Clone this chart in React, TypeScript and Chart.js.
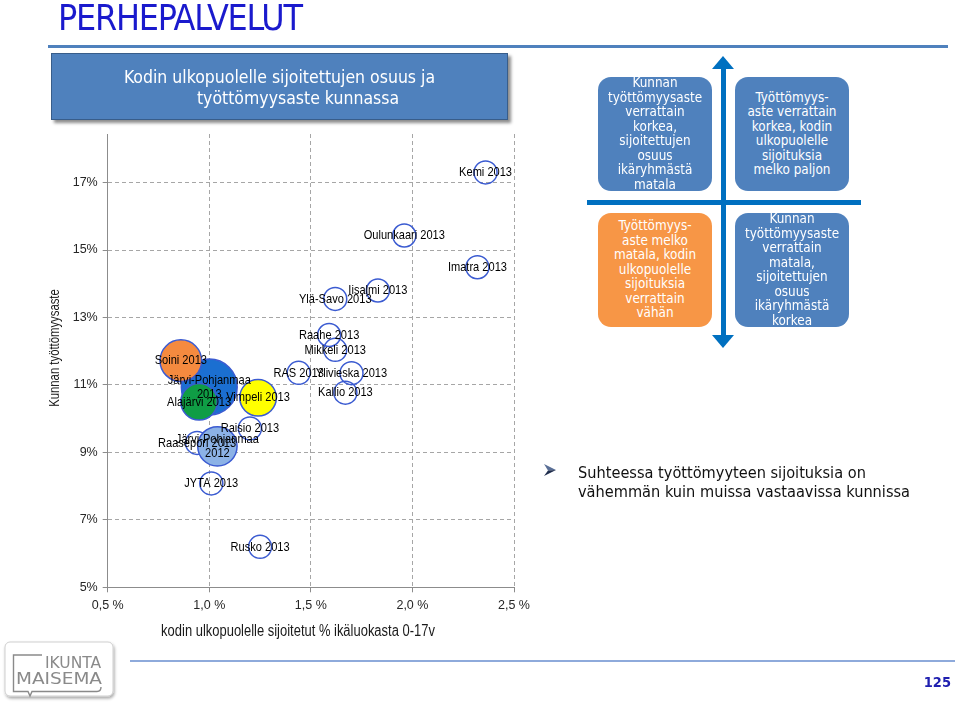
import React, { useEffect, useRef } from 'react';
import { Chart, registerables } from 'chart.js';

Chart.register(...registerables);

// ---------- data ----------
const municipalities = [
  'Kemi 2013',
  'Oulunkaari 2013',
  'Imatra 2013',
  'Iisalmi 2013',
  'Ylä-Savo 2013',
  'Raahe 2013',
  'Mikkeli 2013',
  'RAS 2013',
  'Ylivieska 2013',
  'Kallio 2013',
  'Raisio 2013',
  'JYTA 2013',
  'Rusko 2013',
  'Raasepori 2013',
  'Järvi-Pohjanmaa\n2013',
  'Soini 2013',
  'Alajärvi 2013',
  'Vimpeli 2013',
  'Järvi-Pohjanmaa\n2012',
];
// kodin ulkopuolelle sijoitetut, % ikäluokasta 0-17v
const placementShare = [2.36, 1.96, 2.32, 1.83, 1.62, 1.59, 1.62, 1.44, 1.70, 1.67, 1.20, 1.01, 1.25, 0.94, 1.00, 0.86, 0.95, 1.24, 1.04];
// kunnan työttömyysaste, %
const unemploymentRate = [17.3, 15.43, 14.49, 13.8, 13.55, 12.48, 12.04, 11.36, 11.35, 10.77, 9.71, 8.08, 6.2, 9.28, 10.94, 11.72, 10.5, 10.62, 9.18];
// relative bubble size
const bubbleSize = [1, 1, 1, 1, 1, 1, 1, 1, 1, 1, 1, 1, 1, 1, 5.9, 3.27, 2.53, 2.53, 2.93];

const xTickValues = [0.5, 1.0, 1.5, 2.0, 2.5];
const yTickValues = [5, 7, 9, 11, 13, 15, 17];

// ---------- styles ----------
const OUTLINE = '#3b5bd1';
const fillByName: Record<string, string> = {
  'Järvi-Pohjanmaa\n2013': '#1b6fd1',
  'Soini 2013': '#f58a3f',
  'Alajärvi 2013': '#0f9d45',
  'Vimpeli 2013': '#ffff00',
  'Järvi-Pohjanmaa\n2012': '#8cb2e6',
};
const BASE_R = 11.5;
const SANS = '"Liberation Sans", Arial, sans-serif';
const COND = '"DejaVu Sans Condensed", "DejaVu Sans", Verdana, sans-serif';
const NARROW_X = 0.82;

const labelPlugin = {
  id: 'bubbleLabels',
  afterDatasetsDraw(chart: any) {
    const ctx = chart.ctx;
    const meta = chart.getDatasetMeta(0);
    meta.data.forEach((el: any, i: number) => {
      const lines = municipalities[i].split('\n');
      const lh = 14;
      ctx.save();
      ctx.font = '13.5px ' + SANS;
      ctx.fillStyle = '#000';
      ctx.textAlign = 'center';
      ctx.textBaseline = 'middle';
      ctx.translate(el.x, el.y);
      ctx.scale(NARROW_X, 1);
      lines.forEach((ln: string, k: number) => {
        ctx.fillText(ln, 0, (k - (lines.length - 1) / 2) * lh);
      });
      ctx.restore();
    });
  },
};

const gridOpts: any = {
  color: '#a6a6a6',
  tickLength: 5,
  tickColor: '#8c8c8c',
  tickBorderDash: [],
};
const borderOpts: any = { display: true, color: '#8c8c8c', width: 1, dash: [4, 3] };

function BubbleChart() {
  const ref = useRef<HTMLCanvasElement | null>(null);
  useEffect(() => {
    if (!ref.current) return;
    const data = municipalities.map((_, i) => ({
      x: placementShare[i],
      y: unemploymentRate[i],
      r: BASE_R * Math.sqrt(bubbleSize[i]),
    }));
    const chart = new Chart(ref.current, {
      type: 'bubble',
      data: {
        datasets: [
          {
            data,
            backgroundColor: municipalities.map((n) => fillByName[n] || 'rgba(255,255,255,0)'),
            borderColor: municipalities.map(() => OUTLINE),
            borderWidth: 1.5,
          },
        ],
      },
      options: {
        animation: false,
        responsive: false,
        devicePixelRatio: 1,
        layout: { padding: { left: 0, top: 134, right: 445, bottom: 0 } },
        plugins: { legend: { display: false }, tooltip: { enabled: false } },
        scales: {
          x: {
            type: 'linear',
            min: 0.5,
            max: 2.5,
            afterBuildTicks: (s: any) => {
              s.ticks = xTickValues.map((v) => ({ value: v }));
            },
            afterFit: (s: any) => {
              s.height = 703 - 587.3;
            },
            grid: gridOpts,
            border: borderOpts,
            ticks: {
              autoSkip: false,
              maxRotation: 0,
              padding: 6,
              color: '#262626',
              font: { family: SANS, size: 12.5 },
              callback: (v: any) => Number(v).toFixed(1).replace('.', ',') + ' %',
            },
          },
          y: {
            type: 'linear',
            min: 5,
            max: 18.44,
            afterBuildTicks: (s: any) => {
              s.ticks = yTickValues.map((v) => ({ value: v }));
            },
            afterFit: (s: any) => {
              s.width = 107.7;
            },
            grid: gridOpts,
            border: borderOpts,
            ticks: {
              autoSkip: false,
              padding: 5,
              color: '#262626',
              font: { family: SANS, size: 12.5 },
              callback: (v: any) => `${v}%`,
            },
          },
        },
      },
      plugins: [labelPlugin],
    });
    return () => chart.destroy();
  }, []);
  return (
    <canvas
      ref={ref}
      width={959}
      height={703}
      style={{ position: 'absolute', left: 0, top: 0, width: 959, height: 703 }}
    />
  );
}

const abs = (s: React.CSSProperties): React.CSSProperties => ({ position: 'absolute', ...s });

function QuadBox(props: { left: number; top: number; bg: string; lines: string[] }) {
  return (
    <div
      style={abs({
        left: props.left,
        top: props.top,
        width: 114,
        height: 114,
        background: props.bg,
        borderRadius: 13,
        display: 'flex',
        flexDirection: 'column',
        justifyContent: 'center',
        alignItems: 'center',
        color: '#fff',
        fontFamily: COND,
        fontSize: 13.4,
        lineHeight: '14.5px',
        textAlign: 'center',
        whiteSpace: 'nowrap',
      })}
    >
      {props.lines.map((l, i) => (
        <div key={i}>{l}</div>
      ))}
    </div>
  );
}

export default function App() {
  const arrowBlue = '#0070c0';
  return (
    <div style={abs({ left: 0, top: 0, width: 959, height: 703, overflow: 'hidden', background: '#fff' })}>
      <BubbleChart />

      {/* page title */}
      <div
        style={abs({
          left: 58,
          top: 0,
          fontFamily: COND,
          fontSize: 35.5,
          lineHeight: '35px',
          letterSpacing: -1.2,
          color: '#1a1acd',
          whiteSpace: 'nowrap',
        })}
      >
        PERHEPALVELUT
      </div>
      <div style={abs({ left: 48, top: 45, width: 900, height: 3, background: '#4f81bd' })} />

      {/* chart title box */}
      <div
        style={abs({
          left: 51,
          top: 53,
          width: 455,
          height: 65,
          background: '#4f81bd',
          border: '1px solid #385d8a',
          boxShadow: '3px 3px 3px rgba(0,0,0,0.45)',
        })}
      />
      <div
        style={abs({
          left: 51,
          top: 66.5,
          width: 457,
          color: '#fff',
          fontFamily: COND,
          fontSize: 17.5,
          lineHeight: '21px',
          textAlign: 'center',
          whiteSpace: 'nowrap',
        })}
      >
        <div>Kodin ulkopuolelle sijoitettujen osuus ja</div>
        <div style={{ paddingLeft: 37 }}>työttömyysaste kunnassa</div>
      </div>

      {/* axis titles */}
      <div
        style={abs({
          left: 98,
          top: 622,
          width: 400,
          textAlign: 'center',
          fontFamily: SANS,
          fontSize: 16,
          lineHeight: '18px',
          color: '#1a1a1a',
          whiteSpace: 'nowrap',
          transform: 'scaleX(0.81)',
        })}
      >
        kodin ulkopuolelle sijoitetut % ikäluokasta 0-17v
      </div>
      <div
        style={abs({
          left: 54 - 100,
          top: 348 - 9,
          width: 200,
          textAlign: 'center',
          fontFamily: SANS,
          fontSize: 14.5,
          lineHeight: '18px',
          color: '#1a1a1a',
          whiteSpace: 'nowrap',
          transform: 'rotate(-90deg) scaleX(0.78)',
        })}
      >
        Kunnan työttömyysaste
      </div>

      {/* quadrant diagram */}
      <div style={abs({ left: 720.5, top: 68, width: 5, height: 268, background: arrowBlue })} />
      <div
        style={abs({
          left: 712,
          top: 56,
          width: 0,
          height: 0,
          borderLeft: '11px solid transparent',
          borderRight: '11px solid transparent',
          borderBottom: '13px solid ' + arrowBlue,
        })}
      />
      <div
        style={abs({
          left: 712,
          top: 335,
          width: 0,
          height: 0,
          borderLeft: '11px solid transparent',
          borderRight: '11px solid transparent',
          borderTop: '13px solid ' + arrowBlue,
        })}
      />
      <div style={abs({ left: 587, top: 199.5, width: 274, height: 5, background: arrowBlue })} />
      <QuadBox
        left={598}
        top={77}
        bg="#4f81bd"
        lines={['Kunnan', 'työttömyysaste', 'verrattain', 'korkea,', 'sijoitettujen', 'osuus', 'ikäryhmästä', 'matala']}
      />
      <QuadBox
        left={735}
        top={77}
        bg="#4f81bd"
        lines={['Työttömyys-', 'aste verrattain', 'korkea, kodin', 'ulkopuolelle', 'sijoituksia', 'melko paljon']}
      />
      <QuadBox
        left={598}
        top={213}
        bg="#f79646"
        lines={['Työttömyys-', 'aste melko', 'matala, kodin', 'ulkopuolelle', 'sijoituksia', 'verrattain', 'vähän']}
      />
      <QuadBox
        left={735}
        top={213}
        bg="#4f81bd"
        lines={['Kunnan', 'työttömyysaste', 'verrattain', 'matala,', 'sijoitettujen', 'osuus', 'ikäryhmästä', 'korkea']}
      />

      {/* bullet */}
      <svg style={abs({ left: 542, top: 462 })} width={16} height={16}>
        <polygon points="2,2 14,8 6,8.5" fill="#5a6f96" />
        <polygon points="6,8.5 14,8 2,14" fill="#1f2d4d" />
      </svg>
      <div
        style={abs({
          left: 578,
          top: 462.5,
          fontFamily: COND,
          fontSize: 16.2,
          lineHeight: '19px',
          color: '#111',
          whiteSpace: 'nowrap',
        })}
      >
        <div>Suhteessa työttömyyteen sijoituksia on</div>
        <div>vähemmän kuin muissa vastaavissa kunnissa</div>
      </div>

      {/* footer */}
      <div style={abs({ left: 130, top: 660, width: 825, height: 2, background: '#8eaadb' })} />
      <div
        style={abs({
          left: 915,
          top: 673,
          width: 36,
          textAlign: 'right',
          fontFamily: COND,
          fontWeight: 'bold',
          fontSize: 14.5,
          lineHeight: '18px',
          color: '#2020b0',
        })}
      >
        125
      </div>
      <svg style={abs({ left: 0, top: 636 })} width={125} height={67}>
        <defs>
          <filter id="logoShadow" x="-10%" y="-10%" width="130%" height="140%">
            <feDropShadow dx="1" dy="2" stdDeviation="1.5" floodOpacity="0.35" />
          </filter>
        </defs>
        <rect x={5} y={6} width={108} height={54} rx={5} fill="#fff" stroke="#cfcfcf" filter="url(#logoShadow)" />
        <path
          d="M 42 19 L 13.5 19 L 13.5 55.5 L 28 55.5 L 30 60 L 32 55.5 L 97 55.5 Q 101 55.5 101 51"
          fill="none"
          stroke="#8a8a8a"
          strokeWidth={1.4}
        />
        <text x={45} y={31.5} fontFamily={COND} fontSize={15.5} fill="#8a8a8a" textLength={56} lengthAdjust="spacingAndGlyphs">
          IKUNTA
        </text>
        <text x={16} y={48} fontFamily={COND} fontSize={15.5} fill="#8a8a8a" textLength={86} lengthAdjust="spacingAndGlyphs">
          MAISEMA
        </text>
      </svg>
    </div>
  );
}
